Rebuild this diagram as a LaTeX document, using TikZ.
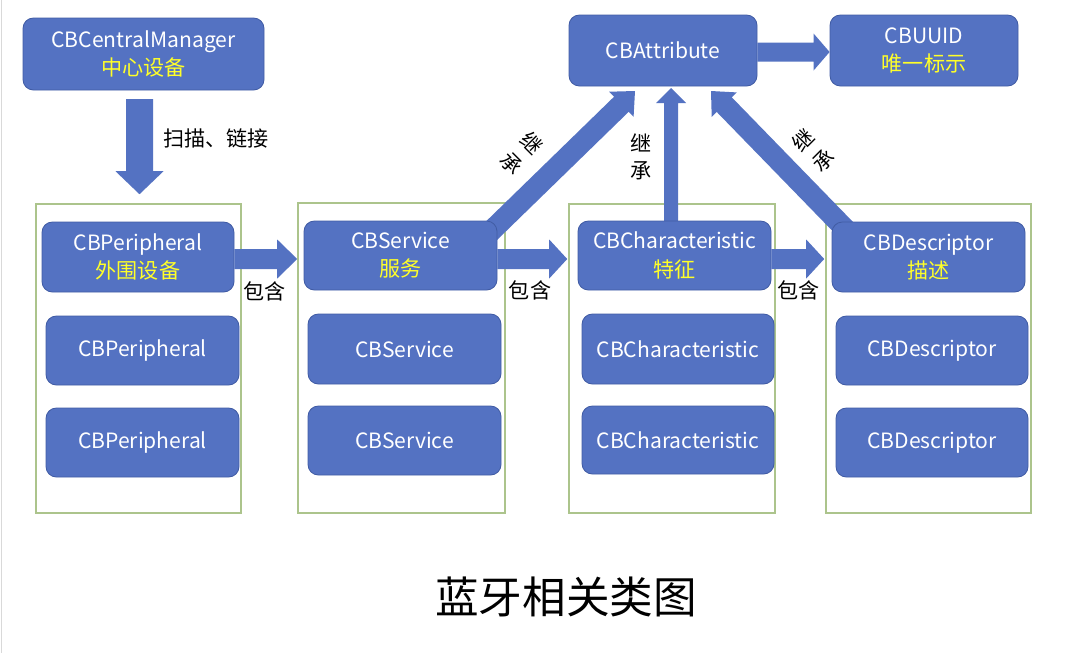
\documentclass[tikz,border=0pt]{standalone}
\usepackage{fontspec}
\setmainfont{Noto Sans CJK SC}
\usetikzlibrary{calc}
\definecolor{boxblue}{RGB}{84,114,194}
\definecolor{boxedge}{RGB}{66,93,165}
\definecolor{frgreen}{RGB}{172,196,140}
\definecolor{ylw}{RGB}{255,255,40}
\newcommand{\blkarrow}[5]{%
  \coordinate (ba-hb) at ($(#2)!#5*0.025cm!(#1)$);
  \fill[boxblue] ($(#1)!#3*0.025cm!90:(#2)$) -- ($(ba-hb)!#3*0.025cm!90:(#2)$) -- ($(ba-hb)!#4*0.025cm!90:(#2)$) -- (#2) -- ($(ba-hb)!#4*0.025cm!-90:(#2)$) -- ($(ba-hb)!#3*0.025cm!-90:(#2)$) -- ($(#1)!#3*0.025cm!-90:(#2)$) -- cycle;
}
\newcommand{\yl}[1]{\textcolor{ylw}{#1}}
\begin{document}
\begin{tikzpicture}[x=0.025cm,y=-0.025cm,
  box/.style={draw=boxedge, line width=0.6pt, fill=boxblue, rounded corners=0.26cm, text=white, align=center, font=\fontsize{15}{20}\selectfont, inner sep=0pt},
  sz/.style 2 args={minimum width=#1*0.025cm, minimum height=#2*0.025cm},
  colframe/.style={draw=frgreen, line width=1.1pt, inner sep=0pt},
  lbl/.style={font=\fontsize{15}{19}\selectfont, text=black, inner sep=0pt, align=center},
]
\useasboundingbox (0,0) rectangle (1092,653);
\fill[white] (0,0) rectangle (1092,653);
\draw[gray!30, line width=1.4pt] (1.5,0) -- (1.5,653);

% column frames
\node[colframe, sz={205}{309}] (f1) at (138.5,358.5) {};
\node[colframe, sz={207}{310}] (f2) at (401.5,358) {};
\node[colframe, sz={206}{309}] (f3) at (672,358.5) {};
\node[colframe, sz={205}{309}] (f4) at (928.5,358.5) {};

% arrows (drawn before boxes)
\coordinate (a0s) at (139.5,99);
\coordinate (a0e) at ($(a0s |- f1.north)+(0,-9)$);
\blkarrow{a0s}{a0e}{13.5}{24}{23}

\coordinate (d1s) at (484,238);
\coordinate (d1e) at (635,91);
\blkarrow{d1s}{d1e}{10.5}{17.5}{19}

\coordinate (d2s) at (852,236);
\coordinate (d2e) at (711,91);
\blkarrow{d2s}{d2e}{10.5}{17.5}{19}

\coordinate (vs) at (671,230);
\coordinate (ve) at (671,88);
\blkarrow{vs}{ve}{7}{15}{15}

% boxes
\node[box, sz={241}{72}] (cm) at (143.5,54) {CBCentralManager\\\yl{中心设备}};
\node[box, sz={188}{71}] (attr) at (663,50.5) {CBAttribute};
\node[box, sz={188}{71}] (uuid) at (924,50.5) {CBUUID\\\yl{唯一标示}};

\node[box, sz={192}{70}] (per1) at (138,257) {CBPeripheral\\\yl{外围设备}};
\node[box, sz={193}{69}] (per2) at (142.5,350.5) {CBPeripheral};
\node[box, sz={193}{69}] (per3) at (142.5,442.5) {CBPeripheral};

\node[box, sz={193}{69}] (svc1) at (400.5,255.5) {CBService\\\yl{服务}};
\node[box, sz={193}{70}] (svc2) at (404.5,349) {CBService};
\node[box, sz={193}{69}] (svc3) at (404.5,440.5) {CBService};

\node[box, sz={193}{69}] (ch1) at (674.5,255.5) {CBCharacteristic\\\yl{特征}};
\node[box, sz={192}{70}] (ch2) at (678,349) {CBCharacteristic};
\node[box, sz={192}{68}] (ch3) at (678,440) {CBCharacteristic};

\node[box, sz={193}{70}] (ds1) at (928.5,257) {CBDescriptor\\\yl{描述}};
\node[box, sz={192}{69}] (ds2) at (932,350.5) {CBDescriptor};
\node[box, sz={192}{69}] (ds3) at (932,442.5) {CBDescriptor};

% horizontal arrows
\coordinate (h0s) at (attr.east |- 0,52);
\coordinate (h0e) at (uuid.west |- 0,52);
\blkarrow{h0s}{h0e}{9.5}{18.5}{16}

\coordinate (h1s) at (per1.east |- 0,259);
\coordinate (h1e) at (f2.west |- 0,259);
\blkarrow{h1s}{h1e}{10}{19.5}{20}

\coordinate (h2s) at (svc1.east |- 0,259);
\coordinate (h2e) at ($(f3.west |- 0,259)+(-1,0)$);
\blkarrow{h2s}{h2e}{10}{19.5}{18}

\coordinate (h3s) at (ch1.east |- 0,259);
\coordinate (h3e) at ($(f4.west |- 0,259)+(-1,0)$);
\blkarrow{h3s}{h3e}{10}{19.5}{18}

% labels
\node[lbl] (l0) at (216,138) {扫描、链接};
\node[lbl] (l1) at (264.5,291) {包含};
\node[lbl] (l2) at (530,290) {包含};
\node[lbl] (l3) at (798.5,290) {包含};
\node[lbl, rotate=-45, font=\fontsize{15}{20}\selectfont] (l4) at (522,153) {继\\承};
\node[lbl, font=\fontsize{15}{19}\selectfont] (l5) at (641,157) {继\\承};
\node[lbl, rotate=45, font=\fontsize{15}{20}\selectfont] (l6) at (813,150) {继\\承};

\node[lbl, font=\fontsize{31}{36}\selectfont] (title) at (566,597) {蓝牙相关类图};
\end{tikzpicture}
\end{document}
